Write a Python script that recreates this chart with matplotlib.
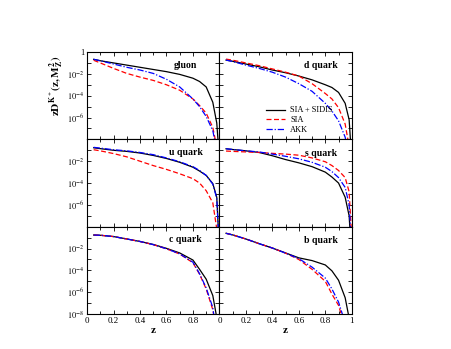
import matplotlib
matplotlib.use('Agg')
import matplotlib.pyplot as plt
import numpy as np
from matplotlib.ticker import FixedLocator, FuncFormatter

plt.rcParams['font.family'] = 'Liberation Serif'
plt.rcParams['mathtext.fontset'] = 'stix'

# log10 of zD(z), z grid per curve
z_std = [0.05, 0.1, 0.2, 0.3, 0.4, 0.5, 0.6, 0.7, 0.8, 0.85, 0.9, 0.95]

gluon_z_full = z_std + [0.98, 0.995]
gluon_full = [-0.67, -0.8, -1.0, -1.2, -1.4, -1.6, -1.8, -2.05, -2.4, -2.7, -3.2, -4.6, -6.5, -9]
gluon_z_sia = z_std + [0.985]
gluon_sia = [-0.76, -1.0, -1.5, -1.96, -2.3, -2.6, -3.0, -3.5, -4.3, -4.9, -5.6, -6.9, -9]
gluon_z_akk = z_std + [0.98]
gluon_akk = [-0.67, -0.8, -1.1, -1.4, -1.65, -1.96, -2.5, -3.2, -4.3, -5.0, -5.9, -7.2, -9]

d_z_full = z_std + [0.98, 0.995]
d_full = [-0.74, -0.85, -1.1, -1.35, -1.65, -1.9, -2.2, -2.55, -3.0, -3.25, -3.7, -4.7, -6.2, -9]
d_z_sia = z_std + [0.985]
d_sia = [-0.65, -0.75, -1.0, -1.25, -1.55, -1.85, -2.2, -2.9, -3.8, -4.3, -5.1, -6.6, -9]
d_z_akk = z_std + [0.97]
d_akk = [-0.74, -0.87, -1.2, -1.5, -1.85, -2.3, -2.9, -3.6, -4.7, -5.4, -6.3, -7.8, -9]

u_z_full = z_std + [0.98, 0.995]
u_full = [-0.77, -0.85, -1.0, -1.1, -1.25, -1.47, -1.75, -2.1, -2.55, -2.9, -3.3, -4.05, -5.3, -9]
u_z_sia = z_std + [0.99]
u_sia = [-0.95, -1.05, -1.3, -1.6, -2.0, -2.4, -2.75, -3.15, -3.6, -4.0, -4.7, -5.8, -9]
u_z_akk = z_std + [0.98, 0.995]
u_akk = [-0.73, -0.8, -0.95, -1.05, -1.2, -1.4, -1.7, -2.05, -2.5, -2.85, -3.3, -4.1, -5.4, -9]

s_z_full = z_std + [0.98, 0.99]
s_full = [-0.86, -0.93, -1.05, -1.2, -1.5, -1.85, -2.15, -2.5, -3.0, -3.45, -4.0, -5.3, -7.0, -9]
s_z_sia = z_std + [0.98, 1.0]
s_sia = [-1.07, -1.1, -1.15, -1.2, -1.28, -1.35, -1.45, -1.7, -2.05, -2.4, -2.85, -3.5, -4.8, -9]
s_z_akk = z_std + [0.98, 0.995]
s_akk = [-0.86, -0.92, -1.05, -1.15, -1.35, -1.55, -1.78, -2.1, -2.55, -2.95, -3.5, -4.4, -6.0, -9]

c_z_full = z_std + [0.99]
c_full = [-0.76, -0.78, -0.9, -1.12, -1.35, -1.62, -1.98, -2.4, -3.05, -3.9, -4.8, -6.3, -9]
c_z_sia = z_std + [0.97]
c_sia = [-0.76, -0.78, -0.9, -1.12, -1.35, -1.64, -2.02, -2.5, -3.3, -4.35, -5.7, -7.6, -9]
c_z_akk = z_std + [0.968]
c_akk = [-0.76, -0.78, -0.9, -1.12, -1.35, -1.64, -2.02, -2.48, -3.25, -4.3, -5.6, -7.4, -9]

b_z_full = z_std + [0.99]
b_full = [-0.6, -0.75, -1.12, -1.55, -1.95, -2.4, -2.85, -3.1, -3.5, -4.04, -4.9, -6.5, -9]
b_z_sia = z_std[:-1] + [0.945]
b_sia = [-0.6, -0.75, -1.12, -1.55, -1.95, -2.42, -3.0, -3.9, -5.0, -6.17, -7.2, -9]
b_z_akk = z_std[:-1] + [0.955]
b_akk = [-0.6, -0.75, -1.12, -1.55, -1.95, -2.42, -2.92, -3.7, -4.7, -5.7, -6.9, -9]

panels = [
    ('gluon', gluon_z_full, gluon_full, gluon_z_sia, gluon_sia, gluon_z_akk, gluon_akk),
    ('d quark', d_z_full, d_full, d_z_sia, d_sia, d_z_akk, d_akk),
    ('u quark', u_z_full, u_full, u_z_sia, u_sia, u_z_akk, u_akk),
    ('s quark', s_z_full, s_full, s_z_sia, s_sia, s_z_akk, s_akk),
    ('c quark', c_z_full, c_full, c_z_sia, c_sia, c_z_akk, c_akk),
    ('b quark', b_z_full, b_full, b_z_sia, b_sia, b_z_akk, b_akk),
]
legend_labels = ['SIA + SIDIS', 'SIA', 'AKK']

fig, axes = plt.subplots(3, 2, figsize=(4.51, 3.49), dpi=100)
fig.subplots_adjust(left=0.193, right=0.780, top=0.851, bottom=0.100, wspace=0, hspace=0)


def ylab(v, pos):
    e = int(round(np.log10(v)))
    if e == 0:
        return '1'
    return r'$10^{%d}$' % e


for i, (name, zf, yf, zs, ys, za, ya) in enumerate(panels):
    ax = axes[i // 2][i % 2]
    row, col = i // 2, i % 2
    ax.plot(zf, 10.0 ** np.array(yf), color='black', lw=0.9, label=legend_labels[0])
    ax.plot(zs, 10.0 ** np.array(ys), color='red', lw=0.9, ls=(0, (4, 2)), label=legend_labels[1])
    ax.plot(za, 10.0 ** np.array(ya), color='blue', lw=0.9, ls=(0, (5, 1.5, 1, 1.5)), label=legend_labels[2])
    ax.set_yscale('log')
    ax.set_xlim(0, 1)
    ax.set_ylim(1e-8, 1)
    ax.yaxis.set_major_locator(FixedLocator([10.0 ** k for k in range(-8, 1)]))
    ax.yaxis.set_minor_locator(FixedLocator([]))
    ax.xaxis.set_major_locator(FixedLocator(np.arange(0, 1.01, 0.2)))
    ax.xaxis.set_minor_locator(FixedLocator(np.arange(0.1, 1.0, 0.2)))
    ax.tick_params(which='both', direction='in', top=True, right=True, pad=2)
    ax.tick_params(axis='x', labelsize=6.5)
    ax.tick_params(axis='y', labelsize=6)
    ax.tick_params(which='major', length=3, width=0.6)
    ax.tick_params(which='minor', length=2, width=0.6)
    for sp in ax.spines.values():
        sp.set_linewidth(0.8)
    if col == 0:
        def fmt(v, pos, row=row):
            e = int(round(np.log10(v)))
            if e % 2 != 0:
                return ''
            if e == 0 and row != 0:
                return ''
            if e == -8 and row != 2:
                return ''
            return ylab(v, pos)
        ax.yaxis.set_major_formatter(FuncFormatter(fmt))
    else:
        ax.set_yticklabels([])
    if row == 2:
        if col == 0:
            ax.set_xticklabels(['0', '0.2', '0.4', '0.6', '0.8', ''])
        else:
            ax.set_xticklabels(['0', '0.2', '0.4', '0.6', '0.8', '1'])
        ax.set_xlabel('z', fontsize=8, fontweight='bold', labelpad=1)
    else:
        ax.set_xticklabels([])
    if col == 0:
        ax.text(0.745, 0.85, name, transform=ax.transAxes, ha='center', va='center',
                fontsize=7, fontweight='bold')
    else:
        ax.text(0.77, 0.84, name, transform=ax.transAxes, ha='center', va='center',
                fontsize=7, fontweight='bold')
    if i == 1:
        ax.legend(loc='center left', bbox_to_anchor=(0.32, 0.22), frameon=False,
                  fontsize=6, handlelength=2.3, labelspacing=0.2, handletextpad=0.6,
                  borderpad=0)

fig.text(56 / 451, 1 - 86 / 349, r'$\mathbf{zD^{K^+}(z,M_Z^2)}$', rotation=90,
         ha='center', va='center', fontsize=8)

fig.savefig('out.png', dpi=100)
